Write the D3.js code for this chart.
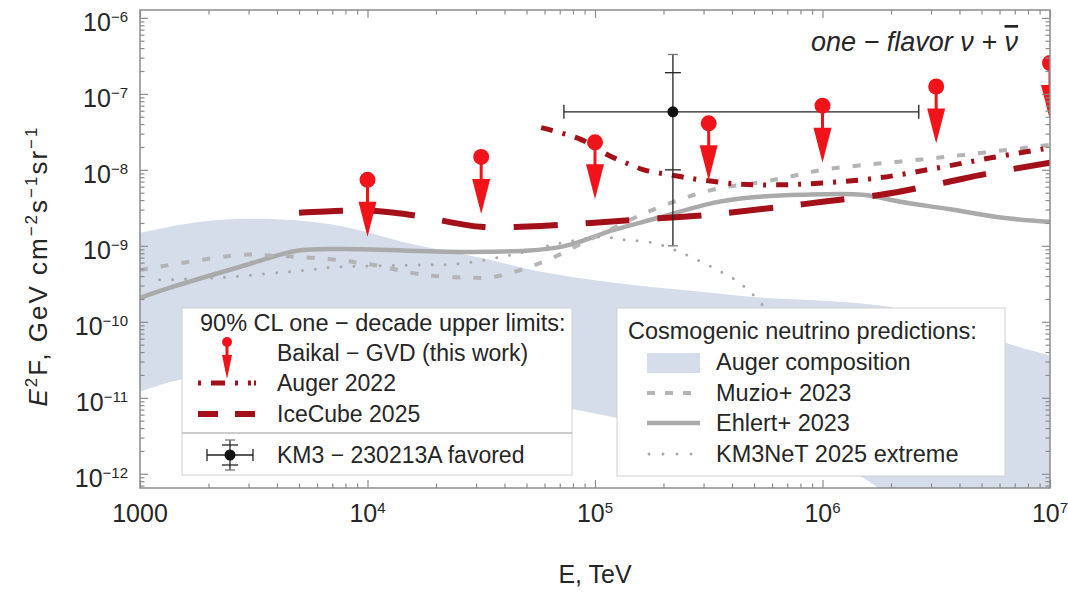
<!DOCTYPE html>
<html>
<head>
<meta charset="utf-8">
<script src="https://cdn.jsdelivr.net/npm/d3@7"></script>
<style>
body { margin: 0; background: #fff; }
svg text { font-family: "Liberation Sans", Arial, sans-serif; fill: #262626; }
</style>
</head>
<body>
<svg id="chart" width="1068" height="592"></svg>
<script>
// energies in TeV, fluxes as E^2 F in GeV cm^-2 s^-1 sr^-1

// Baikal-GVD one-decade upper limits
const baikalE = [1e4, 3.16e4, 1e5, 3.16e5, 1e6, 3.16e6, 1e7];
const baikalF = [7.4e-9, 1.48e-8, 2.3e-8, 4.1e-8, 7.0e-8, 1.25e-7, 2.55e-7];

// Auger 2022
const augerE = [5.8e4, 8.7e4, 1.14e5, 1.34e5, 1.64e5, 2.0e5, 2.4e5, 2.9e5, 4.3e5, 6.4e5, 1e6, 1.8e6, 3.2e6, 5.5e6, 1e7];
const augerF = [3.6e-8, 2.5e-8, 1.57e-8, 1.27e-8, 1.0e-8, 8.9e-9, 8.1e-9, 7.4e-9, 6.5e-9, 6.35e-9, 6.7e-9, 7.9e-9, 1.06e-8, 1.44e-8, 1.95e-8];

// IceCube 2025
const iceE = [5.0e3, 7.8e3, 1.06e4, 1.66e4, 2.16e4, 3.15e4, 5.8e4, 9.6e4, 1.5e5, 3.15e5, 6.6e5, 1e6, 1.8e6, 3.2e6, 5.5e6, 1e7];
const iceF = [2.72e-9, 2.89e-9, 2.89e-9, 2.48e-9, 2.13e-9, 1.78e-9, 1.83e-9, 2.0e-9, 2.2e-9, 2.56e-9, 3.26e-9, 3.8e-9, 4.7e-9, 6.5e-9, 9.1e-9, 1.24e-8];

// Muzio+ 2023
const muzioE = [1e3, 2.76e3, 3.85e3, 6.7e3, 1.06e4, 1.77e4, 2.93e4, 3.6e4, 5.8e4, 1e5, 1.71e5, 2.73e5, 3.6e5, 5.5e5, 7.1e5, 1e6, 3.2e6, 1e7];
const muzioF = [4.8e-10, 7.6e-10, 7.4e-10, 6.7e-10, 5.6e-10, 4.15e-10, 3.8e-10, 3.9e-10, 6.0e-10, 1.31e-9, 2.8e-9, 4.7e-9, 5.8e-9, 6.95e-9, 8.1e-9, 1.0e-8, 1.44e-8, 2.13e-8];

// Ehlert+ 2023
const ehlertE = [1e3, 1.4e3, 2.76e3, 4.9e3, 7.6e3, 2.93e4, 7.1e4, 1.21e5, 1.9e5, 3.34e5, 4.7e5, 8.1e5, 1.5e6, 2.2e6, 3.7e6, 6.2e6, 1e7];
const ehlertF = [2.07e-10, 2.9e-10, 5.3e-10, 8.6e-10, 9.1e-10, 8.3e-10, 9.7e-10, 1.62e-9, 2.34e-9, 3.7e-9, 4.3e-9, 4.7e-9, 4.7e-9, 3.8e-9, 3.0e-9, 2.34e-9, 2.07e-9];

// KM3NeT 2025 extreme
const km3E = [1.22e3, 2.18e3, 5.4e3, 7.6e3, 1.77e4, 2.5e4, 4.3e4, 7.1e4, 1.06e5, 1.34e5, 1.82e5, 2.4e5, 3.24e5, 4.26e5, 5.2e5, 6.6e5, 8.5e5];
const km3F = [3.57e-10, 3.8e-10, 4.8e-10, 5.3e-10, 5.6e-10, 5.8e-10, 7.6e-10, 1.09e-9, 1.31e-9, 1.2e-9, 1.09e-9, 8.1e-10, 5.3e-10, 3.36e-10, 1.95e-10, 7.9e-11, 3e-11];

// Auger composition band (upper and lower edges)
const bandUpE = [1e3, 1.84e3, 3.4e3, 7.6e3, 1.5e4, 3.15e4, 5.8e4, 1.21e5, 2.93e5, 4.86e5, 1.82e6, 3.7e6, 6.15e6, 1e7];
const bandUpF = [1.48e-9, 2.07e-9, 2.27e-9, 1.83e-9, 1.09e-9, 6.95e-10, 4.55e-10, 3.26e-10, 2.48e-10, 2.13e-10, 1.63e-10, 1.0e-10, 5.5e-11, 3.6e-11];
const bandLoE = [1e3, 1.53e3, 3.4e3, 8.4e3, 2.32e4, 6.4e4, 1.77e5, 4.86e5, 1.38e6, 2.23e6, 1e7];
const bandLoF = [1.2e-11, 1.75e-11, 2.2e-11, 2.0e-11, 1.48e-11, 8.1e-12, 4.4e-12, 2.2e-12, 1.0e-12, 3.9e-13, 2.2e-14];

// KM3-230213A favored
const kmPointE = 2.2e5;
const kmPointF = 5.8e-8;
const kmRangeE = [7.3e4, 2.65e6];
const kmInnerF = [1.0e-8, 1.9e-7];
const kmOuterF = [1.0e-9, 3.3e-7];

const xTicks = [1e3, 1e4, 1e5, 1e6, 1e7];
const xTickLabels = [["1000", ""], ["10", "4"], ["10", "5"], ["10", "6"], ["10", "7"]];
const yTicks = [1e-6, 1e-7, 1e-8, 1e-9, 1e-10, 1e-11, 1e-12];
const yTickLabels = [["10", "−6"], ["10", "−7"], ["10", "−8"], ["10", "−9"], ["10", "−10"], ["10", "−11"], ["10", "−12"]];

const red = "#f0141a";
const darkRed = "#a3101a";
const gray = "#aaaaaa";
const bandColor = "#d5dcea";

const pL = 140, pR = 1050, pT = 10, pB = 488;

const svg = d3.select("#chart");

const x = d3.scaleLog().domain([1e3, 1e7]).range([pL, pR]);
const y = d3.scaleLog().domain([6.5e-13, 1.27e-6]).range([pB, pT]);

const zip = (a, b) => a.map((v, i) => [v, b[i]]);
const line = d3.line()
    .x(d => x(d[0]))
    .y(d => y(d[1]))
    .curve(d3.curveCatmullRom.alpha(0.5));

svg.append("clipPath").attr("id", "clip")
    .append("rect")
    .attr("x", pL).attr("y", pT)
    .attr("width", pR - pL).attr("height", pB - pT);

const plot = svg.append("g").attr("clip-path", "url(#clip)");

// band
const bandPath = line(zip(bandUpE, bandUpF)) + "L" +
    line(zip(bandLoE, bandLoF).reverse()).slice(1) + "Z";
plot.append("path")
    .attr("d", bandPath)
    .attr("fill", bandColor);

plot.append("path")
    .attr("d", line(zip(ehlertE, ehlertF)))
    .attr("fill", "none")
    .attr("stroke", gray)
    .attr("stroke-width", 4.5);

plot.append("path")
    .attr("d", line(zip(muzioE, muzioF)))
    .attr("fill", "none")
    .attr("stroke", "#b4b4b4")
    .attr("stroke-width", 4)
    .attr("stroke-dasharray", "8,13");

plot.append("path")
    .attr("d", line(zip(km3E, km3F)))
    .attr("fill", "none")
    .attr("stroke", "#a8a8a8")
    .attr("stroke-width", 3)
    .attr("stroke-linecap", "round")
    .attr("stroke-dasharray", "0,13");

plot.append("path")
    .attr("d", line(zip(iceE, iceF)))
    .attr("fill", "none")
    .attr("stroke", darkRed)
    .attr("stroke-width", 6)
    .attr("stroke-dasharray", "44,28");

plot.append("path")
    .attr("d", line(zip(augerE, augerF)))
    .attr("fill", "none")
    .attr("stroke", darkRed)
    .attr("stroke-width", 5)
    .attr("stroke-dasharray", "12,10,3,10");

// KM3 event error bars
const km = plot.append("g").attr("stroke", "#222").attr("stroke-width", 1.3);
const kx = x(kmPointE), ky = y(kmPointF);
km.append("line").attr("x1", x(kmRangeE[0])).attr("x2", x(kmRangeE[1])).attr("y1", ky).attr("y2", ky);
km.selectAll("line.cap").data(kmRangeE).join("line")
    .attr("x1", d => x(d)).attr("x2", d => x(d))
    .attr("y1", ky - 7).attr("y2", ky + 7);
km.append("line").attr("x1", kx).attr("x2", kx).attr("y1", y(kmOuterF[0])).attr("y2", y(kmOuterF[1]));
km.selectAll("line.inner").data(kmInnerF).join("line")
    .attr("x1", kx - 8).attr("x2", kx + 8)
    .attr("y1", d => y(d)).attr("y2", d => y(d));
km.selectAll("line.outer").data(kmOuterF).join("line")
    .attr("stroke", "#777")
    .attr("x1", kx - 5).attr("x2", kx + 5)
    .attr("y1", d => y(d)).attr("y2", d => y(d));
plot.append("circle").attr("cx", kx).attr("cy", ky).attr("r", 5.5).attr("fill", "#111");

// Baikal-GVD limits: dot + down arrow
function limitArrow(g, r, stem, head, hw) {
    g.append("line").attr("x1", 0).attr("x2", 0).attr("y1", 0).attr("y2", stem + 2)
        .attr("stroke", red).attr("stroke-width", 3);
    g.append("path").attr("d", `M${-hw},${stem}L${hw},${stem}L0,${head}Z`).attr("fill", red);
    g.append("circle").attr("r", r).attr("fill", red);
}
plot.selectAll("g.lim")
    .data(zip(baikalE, baikalF))
    .join("g")
    .attr("class", "lim")
    .attr("transform", d => `translate(${x(d[0])},${y(d[1])})`)
    .each(function () { limitArrow(d3.select(this), 8, 22, 57, 9); });

// frame ticks
const xMinor = x.ticks().filter(v => !xTicks.some(t => Math.abs(t - v) / t < 1e-6));
const yMinor = y.ticks().filter(v => !yTicks.some(t => Math.abs(t - v) / t < 1e-6));
const axes = [
    [d3.axisBottom(x), `translate(0,${pB})`, xTicks, xMinor],
    [d3.axisTop(x), `translate(0,${pT})`, xTicks, xMinor],
    [d3.axisLeft(y), `translate(${pL},0)`, yTicks, yMinor],
    [d3.axisRight(y), `translate(${pR},0)`, yTicks, yMinor]
];
for (const [ax, tr, major, minor] of axes) {
    const gMaj = svg.append("g").attr("transform", tr)
        .call(ax.tickValues(major).tickSize(-8).tickFormat(""));
    const gMin = svg.append("g").attr("transform", tr)
        .call(ax.tickValues(minor).tickSize(-4.5).tickFormat(""));
    for (const g of [gMaj, gMin]) {
        g.select(".domain").remove();
        g.selectAll("line").attr("stroke", "#8c8c8c").attr("stroke-width", 1.2);
    }
}

svg.append("rect")
    .attr("x", pL).attr("y", pT)
    .attr("width", pR - pL).attr("height", pB - pT)
    .attr("fill", "none").attr("stroke", "#8c8c8c").attr("stroke-width", 1.5);

// tick labels
const xl = svg.append("g").selectAll("text").data(xTicks).join("text")
    .attr("x", d => x(d)).attr("y", 522)
    .attr("text-anchor", "middle")
    .style("font-size", "25px");
xl.append("tspan").text((d, i) => xTickLabels[i][0]);
xl.append("tspan").attr("dy", -9).style("font-size", "15px").text((d, i) => xTickLabels[i][1]);

const yl = svg.append("g").selectAll("text").data(yTicks).join("text")
    .attr("x", 128).attr("y", d => y(d) + 13)
    .attr("text-anchor", "end")
    .style("font-size", "25px");
yl.append("tspan").text((d, i) => yTickLabels[i][0]);
yl.append("tspan").attr("dy", -9).style("font-size", "15px").text((d, i) => yTickLabels[i][1]);

// axis titles
svg.append("text")
    .attr("x", x(1e5)).attr("y", 583)
    .attr("text-anchor", "middle")
    .style("font-size", "25px")
    .text("E, TeV");

const yt = svg.append("text")
    .attr("transform", "translate(47,267) rotate(-90)")
    .attr("text-anchor", "middle")
    .attr("textLength", 279)
    .attr("lengthAdjust", "spacing")
    .style("font-size", "26px");
yt.append("tspan").style("font-style", "italic").text("E");
yt.append("tspan").attr("dy", -10).style("font-size", "17px").text("2");
yt.append("tspan").attr("dy", 10).text("F, GeV cm");
yt.append("tspan").attr("dy", -10).style("font-size", "17px").text("−2");
yt.append("tspan").attr("dy", 10).text("s");
yt.append("tspan").attr("dy", -10).style("font-size", "17px").text("−1");
yt.append("tspan").attr("dy", 10).text("sr");
yt.append("tspan").attr("dy", -10).style("font-size", "17px").text("−1");

// annotation
const ann = svg.append("text")
    .attr("x", 1018).attr("y", 51)
    .attr("text-anchor", "end")
    .style("font-size", "27px")
    .style("font-style", "italic");
ann.append("tspan").text("one − flavor  ν + ");
ann.append("tspan").style("text-decoration", "overline").text("ν");

// legend: upper limits
const lg1 = svg.append("g");
lg1.append("rect").attr("x", 182).attr("y", 308).attr("width", 390).attr("height", 167)
    .attr("fill", "#fff").attr("stroke", "#d0d0d0").attr("stroke-width", 1);
lg1.append("line").attr("x1", 182).attr("x2", 572).attr("y1", 433).attr("y2", 433)
    .attr("stroke", "#999").attr("stroke-width", 1.2);
lg1.append("text").attr("x", 200).attr("y", 331).style("font-size", "23.5px")
    .text("90% CL one − decade upper limits:");
const lg1Names = ["Baikal − GVD (this work)", "Auger 2022", "IceCube 2025", "KM3 − 230213A favored"];
const lg1Rows = [353, 383, 414, 455];
lg1.selectAll("text.item").data(lg1Names).join("text")
    .attr("x", 277).attr("y", (d, i) => lg1Rows[i] + 8)
    .style("font-size", "23px")
    .text(d => d);
limitArrow(lg1.append("g").attr("transform", "translate(227,342)"), 5, 13, 37, 5);
lg1.append("line").attr("x1", 198).attr("x2", 256).attr("y1", 383).attr("y2", 383)
    .attr("stroke", darkRed).attr("stroke-width", 5).attr("stroke-dasharray", "3,10,14,10,3,10,3");
lg1.append("line").attr("x1", 198).attr("x2", 256).attr("y1", 414).attr("y2", 414)
    .attr("stroke", darkRed).attr("stroke-width", 6).attr("stroke-dasharray", "20,17");
const lk = lg1.append("g").attr("stroke", "#222").attr("stroke-width", 1.3);
lk.append("line").attr("x1", 207).attr("x2", 253).attr("y1", 455).attr("y2", 455);
lk.append("line").attr("x1", 207).attr("x2", 207).attr("y1", 449).attr("y2", 461);
lk.append("line").attr("x1", 253).attr("x2", 253).attr("y1", 449).attr("y2", 461);
lk.append("line").attr("x1", 230).attr("x2", 230).attr("y1", 440).attr("y2", 470);
lk.append("line").attr("x1", 222).attr("x2", 238).attr("y1", 445).attr("y2", 445);
lk.append("line").attr("x1", 222).attr("x2", 238).attr("y1", 465).attr("y2", 465);
lk.append("line").attr("x1", 225).attr("x2", 235).attr("y1", 440).attr("y2", 440).attr("stroke", "#777");
lk.append("line").attr("x1", 225).attr("x2", 235).attr("y1", 470).attr("y2", 470).attr("stroke", "#777");
lg1.append("circle").attr("cx", 230).attr("cy", 455).attr("r", 5.5).attr("fill", "#111");

// legend: cosmogenic predictions
const lg2 = svg.append("g");
lg2.append("rect").attr("x", 617).attr("y", 308).attr("width", 388).attr("height", 168)
    .attr("fill", "#fff").attr("stroke", "#d0d0d0").attr("stroke-width", 1);
lg2.append("text").attr("x", 628).attr("y", 339).style("font-size", "23.5px")
    .text("Cosmogenic neutrino predictions:");
const lg2Names = ["Auger composition", "Muzio+ 2023", "Ehlert+ 2023", "KM3NeT 2025 extreme"];
const lg2Rows = [362, 393, 423, 454];
lg2.selectAll("text.item").data(lg2Names).join("text")
    .attr("x", 716).attr("y", (d, i) => lg2Rows[i] + 8)
    .style("font-size", "23.5px")
    .text(d => d);
lg2.append("rect").attr("x", 647).attr("y", 353).attr("width", 53).attr("height", 20).attr("fill", bandColor);
lg2.append("line").attr("x1", 647).attr("x2", 700).attr("y1", 393).attr("y2", 393)
    .attr("stroke", "#b4b4b4").attr("stroke-width", 4).attr("stroke-dasharray", "8,10");
lg2.append("line").attr("x1", 647).attr("x2", 700).attr("y1", 423).attr("y2", 423)
    .attr("stroke", gray).attr("stroke-width", 4.5);
lg2.append("line").attr("x1", 649).attr("x2", 700).attr("y1", 454).attr("y2", 454)
    .attr("stroke", "#a8a8a8").attr("stroke-width", 3).attr("stroke-linecap", "round")
    .attr("stroke-dasharray", "0,14");
</script>
</body>
</html>
